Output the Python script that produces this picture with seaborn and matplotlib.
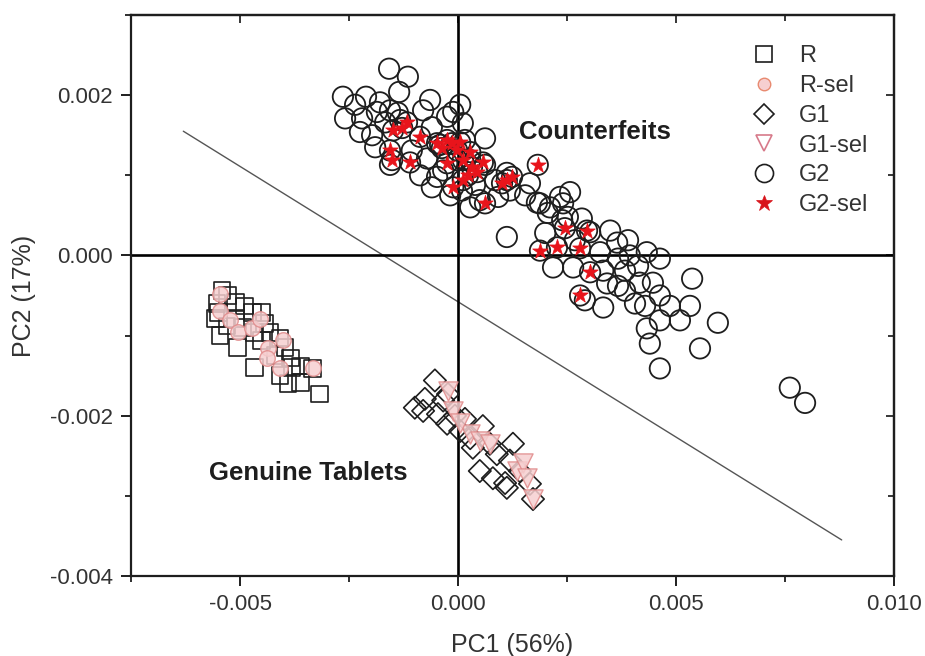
import numpy as np
import pandas as pd
import matplotlib
matplotlib.use("Agg")
import matplotlib.pyplot as plt
import seaborn as sns
from matplotlib.ticker import MultipleLocator, FormatStrFormatter
from matplotlib.lines import Line2D

# ---- data (scores in units of 1e-3) ----
r_pc1 = [-5.41, -5.53, -5.11, -4.89, -4.72, -5.57, -5.46, -5.05, -4.66, -4.43, -4.31, -4.08,
         -4.66, -3.97, -3.85, -3.81, -4.08, -3.90, -3.62, -3.33, -3.17, -5.28, -5.30, -4.95,
         -5.50, -5.11, -4.50, -4.20, -4.50, -3.62]
r_pc2 = [-0.44, -0.60, -0.59, -0.63, -0.71, -0.79, -1.00, -1.15, -0.96, -0.85, -0.96, -1.03,
         -1.40, -1.15, -1.28, -1.40, -1.50, -1.60, -1.59, -1.41, -1.73, -0.50, -0.88, -0.90,
         -0.71, -0.79, -1.06, -1.25, -0.71, -1.38]

rsel_pc1 = [-5.46, -5.46, -5.23, -5.05, -4.72, -4.36, -4.38, -4.08, -4.01, -3.33, -4.54]
rsel_pc2 = [-0.48, -0.69, -0.81, -0.96, -0.90, -1.16, -1.28, -1.40, -1.06, -1.41, -0.79]

g1_pc1 = [-0.53, -0.99, -0.76, -0.34, -0.46, -0.25, 0.16, 0.05, 0.57, 0.34, 0.89, 1.26,
          0.50, 0.80, 1.08, 1.19, 1.65, 1.12, -0.07, 0.28, 1.42, 1.72, 0.73, -0.23, -0.80]
g1_pc2 = [-1.56, -1.90, -1.79, -1.81, -1.98, -2.10, -2.04, -2.19, -2.13, -2.40, -2.48, -2.35,
          -2.69, -2.78, -2.84, -2.56, -2.85, -2.90, -2.00, -2.28, -2.69, -3.04, -2.35, -1.73, -1.94]

g1sel_pc1 = [-0.23, -0.11, 0.28, 0.50, 0.73, 1.35, 1.49, 1.58, 1.72, 0.05]
g1sel_pc2 = [-1.69, -1.94, -2.23, -2.31, -2.35, -2.69, -2.59, -2.78, -3.04, -2.09]

g2_pc1 = [-1.58, -1.15, -1.35, -2.64, -2.11, -2.20, -1.86, -1.56, -2.25, -1.97, -1.90, -1.67,
          -0.80, -0.25, -0.11, 0.11, 0.62, -0.60, -1.56, -0.71, -0.87, -0.60, -0.34, -0.02,
          0.50, 0.28, 0.92, 1.12, 1.65, 1.88, 2.34, 2.57, 2.11, 2.41, 2.52, 3.49, 3.65, 3.90,
          4.33, 3.26, 3.67, 4.13, 2.64, 3.33, 3.83, 4.47, 3.67, 3.42, 4.17, 4.63, 4.86, 4.06,
          4.29, 3.33, 5.37, 5.09, 4.63, 4.33, 4.40, 5.96, 5.55, 4.63, 7.61, 7.96, 1.12, 1.81,
          2.06, 2.39, 2.00, 2.18, -1.38, -1.33, -0.48, -1.06, -0.41, 0.16, 0.28, 0.62, 0.85,
          0.09, -0.18, 0.39, 1.19, 1.54, 2.84, 3.03, 2.68, 3.94, 4.63, 2.91, 3.83, 5.32, -2.59,
          -2.36, -1.79, -0.64, 0.05]
g2_pc2 = [2.33, 2.23, 2.04, 1.98, 1.98, 1.71, 1.79, 1.81, 1.54, 1.50, 1.35, 1.66,
          1.81, 1.73, 1.79, 1.65, 1.46, 1.60, 1.13, 1.21, 1.00, 0.85, 1.06, 1.19,
          0.69, 0.60, 0.73, 1.03, 0.90, 0.65, 0.73, 0.79, 0.60, 0.65, 0.48, 0.31, 0.16, 0.19,
          0.04, 0.04, -0.04, -0.13, -0.15, -0.19, -0.19, -0.34, -0.38, -0.35, -0.34, -0.50, -0.63, -0.60,
          -0.63, -0.65, -0.29, -0.81, -0.81, -0.91, -1.10, -0.84, -1.16, -1.41, -1.65, -1.84, 0.23, 0.66,
          0.53, 0.44, 0.28, -0.15, 1.78, 1.69, 0.98, 1.31, 1.38, 1.44, 1.19, 1.13, 0.94,
          0.81, 0.75, 0.88, 0.81, 0.75, 0.46, 0.29, 0.19, 0.00, -0.04, -0.56, -0.44, -0.63, 1.71,
          1.88, 1.91, 1.94, 1.88]

g2sel_pc1 = [-1.49, -1.28, -1.17, -0.87, -1.56, -1.51, -1.10, -0.25, -0.14, -0.37, -0.25, -0.02,
             0.11, 0.32, 0.44, 0.23, 0.11, -0.11, 0.62, 1.12, 1.24, 1.83, 2.96, 2.80, 2.45,
             1.88, 2.27, 3.03, 2.80, -0.48, 0.05, 0.28, 0.57, 1.01]
g2sel_pc2 = [1.56, 1.59, 1.66, 1.48, 1.31, 1.19, 1.16, 1.44, 1.40, 1.34, 1.15, 1.31,
             1.19, 1.10, 1.04, 1.00, 0.94, 0.85, 0.65, 0.94, 0.98, 1.13, 0.31, 0.09, 0.34,
             0.06, 0.10, -0.21, -0.50, 1.40, 1.41, 1.29, 1.16, 0.90]

# separating line end points (PC1, PC2) in units of 1e-3
line_pc1 = [-6.3, 8.8]
line_pc2 = [1.55, -3.55]

x_ticks = [-0.005, 0.000, 0.005, 0.010]
y_ticks = [-0.004, -0.002, 0.000, 0.002]

SCALE = 1e-3

def frame(px, py, group):
    return pd.DataFrame({"PC1": np.array(px) * SCALE, "PC2": np.array(py) * SCALE, "group": group})

df_r = frame(r_pc1, r_pc2, "R")
df_rsel = frame(rsel_pc1, rsel_pc2, "R-sel")
df_g1 = frame(g1_pc1, g1_pc2, "G1")
df_g1sel = frame(g1sel_pc1, g1sel_pc2, "G1-sel")
# G2 circles include the selected samples
df_g2 = frame(g2_pc1 + g2sel_pc1, g2_pc2 + g2sel_pc2, "G2")
df_g2sel = frame(g2sel_pc1, g2sel_pc2, "G2-sel")
df_line = frame(line_pc1, line_pc2, "line")

sns.set_style("white")
plt.rcParams["font.family"] = ["Liberation Sans", "DejaVu Sans"]
plt.rcParams["axes.unicode_minus"] = False

fig = plt.figure(figsize=(9.25, 6.56), dpi=100)
ax = fig.add_axes([131 / 925, 80 / 656, 763 / 925, 561 / 656])

pink_edge = "#e08a8a"
pink_face = "#f6cfd0"
ink = "#1e1e1e"

sns.lineplot(data=df_line, x="PC1", y="PC2", color="#555555", lw=1.0, ax=ax, zorder=1,
             legend=False, estimator=None, sort=False)

ax.axhline(0, color="black", lw=1.9, zorder=1)
ax.axvline(0, color="black", lw=1.9, zorder=1)

sns.scatterplot(data=df_r, x="PC1", y="PC2", marker="s", s=145, facecolor="none",
                edgecolor=ink, linewidth=1.2, ax=ax, zorder=3, legend=False)
sns.scatterplot(data=df_rsel, x="PC1", y="PC2", marker="o", s=125, facecolor=pink_face,
                edgecolor=pink_edge, linewidth=1.0, alpha=0.85, ax=ax, zorder=4, legend=False)
sns.scatterplot(data=df_g1, x="PC1", y="PC2", marker="D", s=130, facecolor="none",
                edgecolor=ink, linewidth=1.2, ax=ax, zorder=3, legend=False)
sns.scatterplot(data=df_g1sel, x="PC1", y="PC2", marker="v", s=190, facecolor=pink_face,
                edgecolor=pink_edge, linewidth=1.0, alpha=0.85, ax=ax, zorder=4, legend=False)
sns.scatterplot(data=df_g2, x="PC1", y="PC2", marker="o", s=215, facecolor="none",
                edgecolor=ink, linewidth=1.3, ax=ax, zorder=3, legend=False)
sns.scatterplot(data=df_g2sel, x="PC1", y="PC2", marker="*", s=140, facecolor="#e8141b",
                edgecolor="#e8141b", linewidth=0.5, ax=ax, zorder=5, legend=False)

ax.set_xlim(-0.0075, 0.010)
ax.set_ylim(-0.004, 0.003)
ax.set_xticks(x_ticks)
ax.set_yticks(y_ticks)
ax.xaxis.set_minor_locator(MultipleLocator(0.0025))
ax.yaxis.set_minor_locator(MultipleLocator(0.001))
ax.xaxis.set_major_formatter(FormatStrFormatter("%.3f"))
ax.yaxis.set_major_formatter(FormatStrFormatter("%.3f"))

for sp in ax.spines.values():
    sp.set_visible(True)
    sp.set_linewidth(1.6)
    sp.set_color(ink)

ax.tick_params(axis="both", which="major", direction="out", length=7, width=1.4,
               labelsize=16, pad=6, colors=ink, bottom=True, left=True)
ax.tick_params(axis="both", which="minor", direction="out", length=4, width=1.3,
               bottom=True, left=True, colors=ink)
for lab in ax.get_xticklabels() + ax.get_yticklabels():
    lab.set_color("#333333")

secx = ax.secondary_xaxis("top")
secx.set_xticks(x_ticks)
secx.xaxis.set_minor_locator(MultipleLocator(0.0025))
secx.tick_params(axis="x", which="major", direction="in", length=6, width=1.3, labeltop=False)
secx.tick_params(axis="x", which="minor", direction="in", length=4, width=1.3)
secx.spines["top"].set_linewidth(1.6)

secy = ax.secondary_yaxis("right")
secy.set_yticks(y_ticks)
secy.yaxis.set_minor_locator(MultipleLocator(0.001))
secy.tick_params(axis="y", which="major", direction="in", length=6, width=1.3, labelright=False)
secy.tick_params(axis="y", which="minor", direction="in", length=4, width=1.3)
secy.spines["right"].set_linewidth(1.6)

ax.set_xlabel("PC1 (56%)", fontsize=18, color="#333333", labelpad=13)
ax.set_ylabel("PC2 (17%)", fontsize=18, color="#333333", labelpad=10)

ax.text(0.00314, 0.00154, "Counterfeits", fontsize=18.5, fontweight="bold",
        ha="center", va="center", color=ink)
ax.text(-0.00343, -0.00272, "Genuine Tablets", fontsize=18.5, fontweight="bold",
        ha="center", va="center", color=ink)

handles = [
    Line2D([], [], ls="none", marker="s", ms=11, mfc="none", mec=ink, mew=1.2),
    Line2D([], [], ls="none", marker="o", ms=9, mfc=pink_face, mec="#e88a70", mew=1.0),
    Line2D([], [], ls="none", marker="D", ms=10.5, mfc="none", mec=ink, mew=1.2),
    Line2D([], [], ls="none", marker="v", ms=12, mfc="white", mec="#d77a8a", mew=1.2),
    Line2D([], [], ls="none", marker="o", ms=13, mfc="none", mec=ink, mew=1.2),
    Line2D([], [], ls="none", marker="*", ms=12, mfc="#d8141b", mec="#d8141b", mew=0.5),
]
labels = ["R", "R-sel", "G1", "G1-sel", "G2", "G2-sel"]
leg = ax.legend(handles, labels, loc="upper left", bbox_to_anchor=(0.814, 0.946),
                frameon=False, fontsize=17, handlelength=1.0, handletextpad=1.0,
                labelspacing=0.33, borderpad=0, borderaxespad=0)
for t in leg.get_texts():
    t.set_color("#333333")

fig.savefig("out.png", dpi=100)
